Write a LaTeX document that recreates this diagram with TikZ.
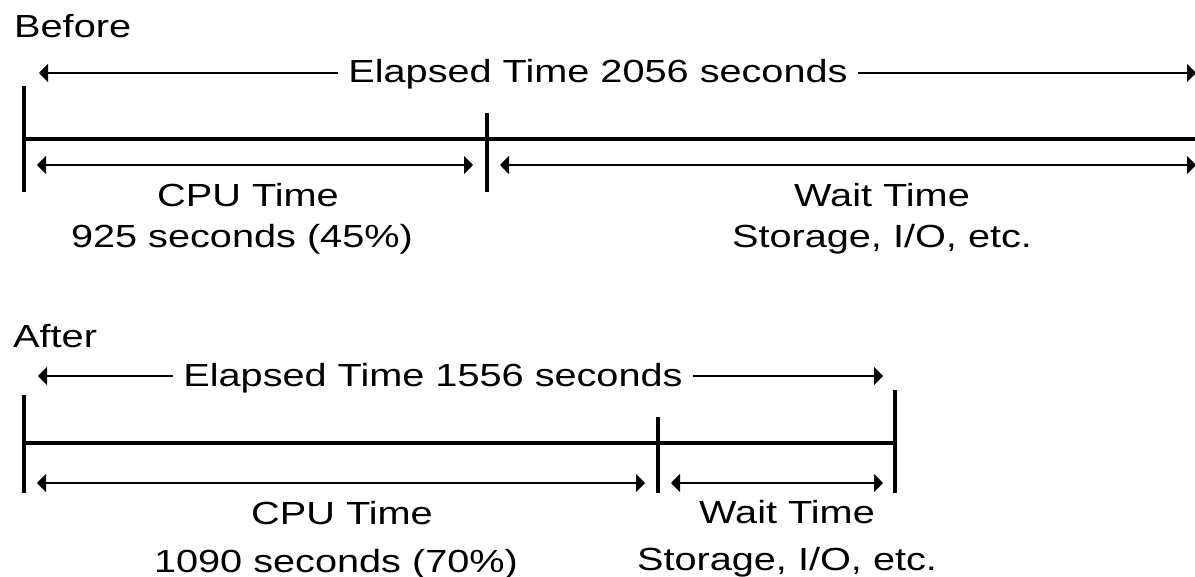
\documentclass[tikz,border=0pt]{standalone}
\usepackage{fontspec}
\setmainfont{Liberation Sans}[FakeStretch=1.24]
\usetikzlibrary{arrows.meta}

\tikzset{
  lbl/.style={font=\fontsize{32}{38}\selectfont, inner ysep=0pt, inner xsep=10pt, anchor=base},
  bar/.style={line width=4pt},
  span/.style={line width=2pt, -{Triangle[length=9pt,width=18pt]}},
  twoway/.style={line width=2pt, {Triangle[length=9pt,width=18pt]}-{Triangle[length=9pt,width=18pt]}}
}

\begin{document}
\begin{tikzpicture}[x=1pt,y=-1pt]
			\clip (0,0) rectangle (1195,577);
			% before
			\node (before) [lbl, anchor=base west, inner xsep=0pt] at (14,38) {Before};
			\node (el1) [lbl] at (598,83) {Elapsed Time 2056 seconds};
			\coordinate (b1tl) at (39,73);
			\coordinate (b1tr) at (1196,73);
			\coordinate (b1lt) at (24,86);   \coordinate (b1lb) at (24,192);
			\coordinate (b1mt) at (487,113); \coordinate (b1mb) at (487,192);
			\coordinate (b1rt) at (1207,86); \coordinate (b1rb) at (1207,192);
			\coordinate (b1al) at (24,139);  \coordinate (b1ar) at (1207,139);
			\coordinate (b1c1) at (37,165);  \coordinate (b1c2) at (473,165);
			\coordinate (b1w1) at (500,165); \coordinate (b1w2) at (1196,165);
			\node (cpu1) [lbl] at (248,207) {CPU Time};
			\node (cpu1s) [lbl] at (242,248) {925 seconds (45\%)};
			\node (wait1) [lbl] at (882,207) {Wait Time};
			\node (wait1s) [lbl] at (882,248) {Storage, I/O, etc.};
			\path[span] (el1.west |- b1tl) edge (b1tl)
			(el1.east |- b1tr) edge (b1tr);
			\path[bar] (b1lt) edge (b1lb)
			(b1mt) edge (b1mb)
			(b1rt) edge (b1rb)
			(b1al) edge (b1ar);
			\path[twoway] (b1c1) edge (b1c2)
			(b1w1) edge (b1w2);
			% after
			\node (after) [lbl, anchor=base west, inner xsep=0pt] at (13,348) {After};
			\node (el2) [lbl] at (433,387) {Elapsed Time 1556 seconds};
			\coordinate (b2tl) at (38,376);
			\coordinate (b2tr) at (883,376);
			\coordinate (b2lt) at (24,395);  \coordinate (b2lb) at (24,493);
			\coordinate (b2mt) at (658,417); \coordinate (b2mb) at (658,493);
			\coordinate (b2rt) at (895,390); \coordinate (b2rb) at (895,493);
			\coordinate (b2al) at (24,443);  \coordinate (b2ar) at (895,443);
			\coordinate (b2c1) at (37,483);  \coordinate (b2c2) at (645,483);
			\coordinate (b2w1) at (671,483); \coordinate (b2w2) at (883,483);
			\node (cpu2) [lbl] at (342,524) {CPU Time};
			\node (cpu2s) [lbl] at (336,572) {1090 seconds (70\%)};
			\node (wait2) [lbl] at (787,523) {Wait Time};
			\node (wait2s) [lbl] at (787,570) {Storage, I/O, etc.};
			\path[span] (el2.west |- b2tl) edge (b2tl)
			(el2.east |- b2tr) edge (b2tr);
			\path[bar] (b2lt) edge (b2lb)
			(b2mt) edge (b2mb)
			(b2rt) edge (b2rb)
			(b2al) edge (b2ar);
			\path[twoway] (b2c1) edge (b2c2)
			(b2w1) edge (b2w2);
		\end{tikzpicture}
\end{document}
